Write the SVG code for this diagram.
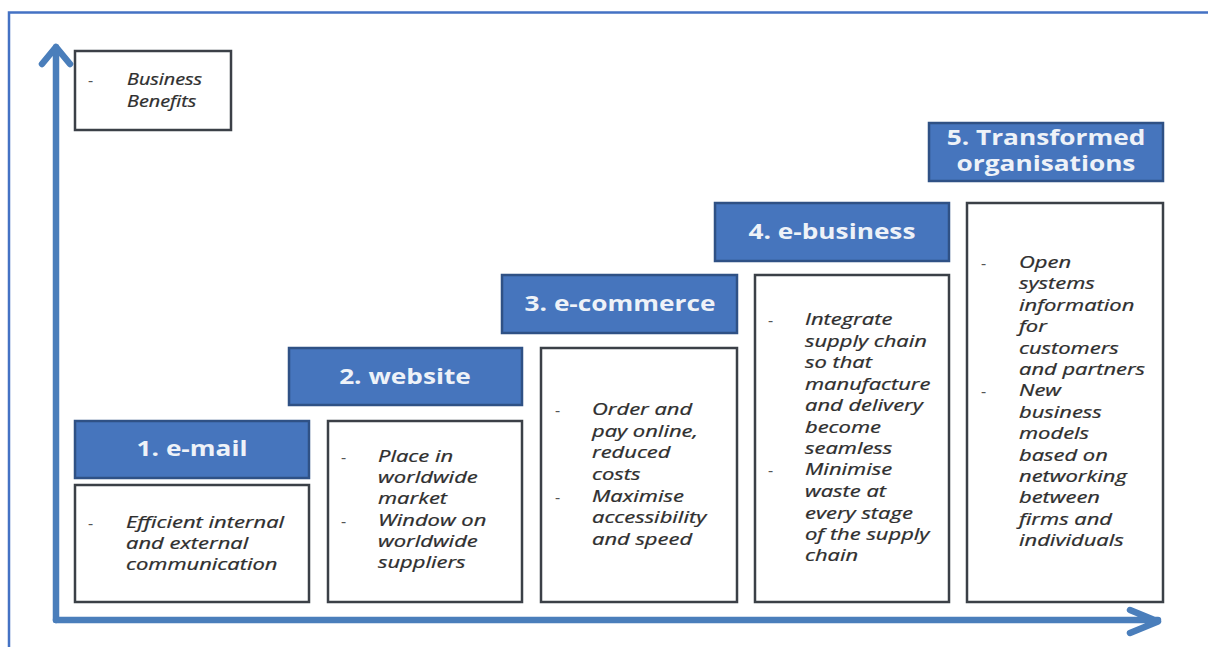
<svg xmlns="http://www.w3.org/2000/svg" width="1208" height="647" viewBox="0 0 1208 647">
  <defs>
    <style>
      .frame { fill: none; stroke: #4472c4; stroke-width: 2.5; }
      .axis { fill: none; stroke: #4a7ebb; stroke-width: 6.5; stroke-linecap: round; stroke-linejoin: round; }
      .head { fill: #4675bd; stroke: #2f5185; stroke-width: 2.5; }
      .body { fill: #ffffff; stroke: #3b4047; stroke-width: 2.5; }
      .htxt { font-family: "Open Sans", "Liberation Sans", sans-serif; font-weight: bold; font-size: 20.5px; fill: #eef2f8; text-anchor: middle; }
      .btxt { font-family: "Open Sans", "Liberation Sans", sans-serif; font-style: italic; font-size: 16.5px; fill: #2e2e2e; stroke: #2e2e2e; stroke-width: 0.25; }
      .dash { font-family: "Open Sans", "Liberation Sans", sans-serif; font-size: 16px; fill: #555555; }
    </style>
  </defs>

  <rect width="1208" height="647" fill="#ffffff"/>

  <!-- outer frame (top and left edges) -->
  <path class="frame" d="M1208 12.5 H9 V647"/>

  <!-- axes -->
  <g id="connectors">
    <path class="axis" d="M56 620 V47 M42 64 L56 47 L70 64"/>
    <path class="axis" d="M56 620 H1158 M1130 610 L1158 621.5 L1130 633"/>
  </g>

  <!-- y-axis label -->
  <g id="benefits">
    <rect class="body" x="75" y="51" width="156" height="79"/>
    <text class="dash" x="88" y="86">-</text>
    <text class="btxt" transform="matrix(1.2 0 0 1 127 0)"><tspan x="0" y="85">Business</tspan><tspan x="0" y="107">Benefits</tspan></text>
  </g>

  <!-- stage 1 -->
  <g id="stage1">
    <rect class="head" x="75" y="421" width="234" height="57"/>
    <text class="htxt" transform="matrix(1.28 0 0 1 192 0)" x="0" y="456">1. e-mail</text>
    <rect class="body" x="75" y="485" width="234" height="117"/>
    <text class="dash" x="88" y="529">-</text>
    <text class="btxt" transform="matrix(1.33 0 0 1 126 0)"><tspan x="0" y="528">Efficient internal</tspan><tspan x="0" y="549">and external</tspan><tspan x="0" y="570">communication</tspan></text>
  </g>

  <!-- stage 2 -->
  <g id="stage2">
    <rect class="head" x="289" y="348" width="233" height="57"/>
    <text class="htxt" transform="matrix(1.28 0 0 1 405 0)" x="0" y="384">2. website</text>
    <rect class="body" x="328" y="421" width="194" height="181"/>
    <text class="dash" x="341" y="463">-</text>
    <text class="btxt" transform="matrix(1.33 0 0 1 378 0)"><tspan x="0" y="462">Place in</tspan><tspan x="0" y="483">worldwide</tspan><tspan x="0" y="504">market</tspan></text>
    <text class="dash" x="341" y="527">-</text>
    <text class="btxt" transform="matrix(1.33 0 0 1 378 0)"><tspan x="0" y="526">Window on</tspan><tspan x="0" y="547">worldwide</tspan><tspan x="0" y="568">suppliers</tspan></text>
  </g>

  <!-- stage 3 -->
  <g id="stage3">
    <rect class="head" x="502" y="275" width="235" height="58"/>
    <text class="htxt" transform="matrix(1.28 0 0 1 620 0)" x="0" y="311">3. e-commerce</text>
    <rect class="body" x="541" y="348" width="196" height="254"/>
    <text class="dash" x="555" y="416">-</text>
    <text class="btxt" transform="matrix(1.33 0 0 1 592 0)"><tspan x="0" y="415">Order and</tspan><tspan x="0" y="437">pay online,</tspan><tspan x="0" y="458">reduced</tspan><tspan x="0" y="480">costs</tspan></text>
    <text class="dash" x="555" y="503">-</text>
    <text class="btxt" transform="matrix(1.33 0 0 1 592 0)"><tspan x="0" y="502">Maximise</tspan><tspan x="0" y="523">accessibility</tspan><tspan x="0" y="545">and speed</tspan></text>
  </g>

  <!-- stage 4 -->
  <g id="stage4">
    <rect class="head" x="715" y="203" width="234" height="58"/>
    <text class="htxt" transform="matrix(1.28 0 0 1 832 0)" x="0" y="239">4. e-business</text>
    <rect class="body" x="755" y="275" width="194" height="327"/>
    <text class="dash" x="768" y="326">-</text>
    <text class="btxt" transform="matrix(1.33 0 0 1 805 0)"><tspan x="0" y="325">Integrate</tspan><tspan x="0" y="347">supply chain</tspan><tspan x="0" y="368">so that</tspan><tspan x="0" y="390">manufacture</tspan><tspan x="0" y="411">and delivery</tspan><tspan x="0" y="433">become</tspan><tspan x="0" y="454">seamless</tspan></text>
    <text class="dash" x="768" y="476">-</text>
    <text class="btxt" transform="matrix(1.33 0 0 1 805 0)"><tspan x="0" y="475">Minimise</tspan><tspan x="0" y="497">waste at</tspan><tspan x="0" y="519">every stage</tspan><tspan x="0" y="540">of the supply</tspan><tspan x="0" y="561">chain</tspan></text>
  </g>

  <!-- stage 5 -->
  <g id="stage5">
    <rect class="head" x="929" y="123" width="234" height="58"/>
    <text class="htxt" transform="matrix(1.28 0 0 1 1046 0)"><tspan x="0" y="145">5. Transformed</tspan><tspan x="0" y="171">organisations</tspan></text>
    <rect class="body" x="967" y="203" width="196" height="399"/>
    <text class="dash" x="981" y="269">-</text>
    <text class="btxt" transform="matrix(1.33 0 0 1 1019 0)"><tspan x="0" y="268">Open</tspan><tspan x="0" y="289">systems</tspan><tspan x="0" y="311">information</tspan><tspan x="0" y="332">for</tspan><tspan x="0" y="354">customers</tspan><tspan x="0" y="375">and partners</tspan></text>
    <text class="dash" x="981" y="397">-</text>
    <text class="btxt" transform="matrix(1.33 0 0 1 1019 0)"><tspan x="0" y="396">New</tspan><tspan x="0" y="418">business</tspan><tspan x="0" y="439">models</tspan><tspan x="0" y="461">based on</tspan><tspan x="0" y="482">networking</tspan><tspan x="0" y="503">between</tspan><tspan x="0" y="525">firms and</tspan><tspan x="0" y="546">individuals</tspan></text>
  </g>
</svg>
